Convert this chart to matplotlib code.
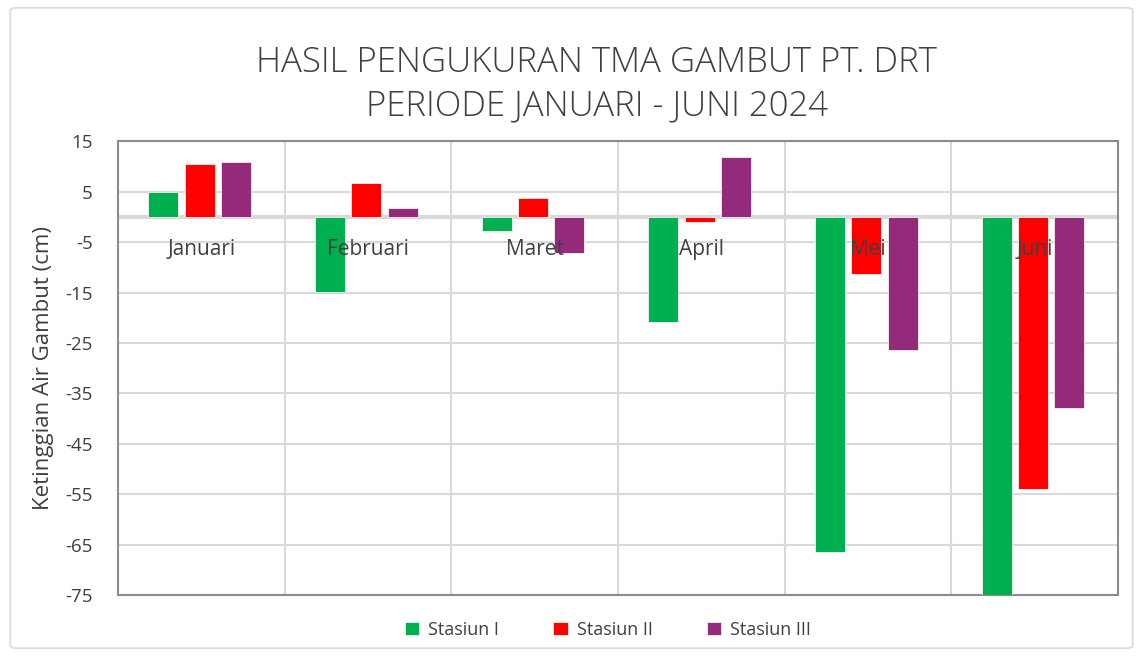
import matplotlib
matplotlib.use("Agg")
import matplotlib.pyplot as plt
import numpy as np
from matplotlib.patches import FancyBboxPatch

bulan = ["Januari", "Februari", "Maret", "April", "Mei", "Juni"]
stasiun_1 = [4.9, -14.9, -2.8, -20.9, -66.4, -75.0]
stasiun_2 = [10.6, 6.8, 3.7, -0.9, -11.3, -53.9]
stasiun_3 = [11.0, 1.9, -7.1, 11.9, -26.3, -37.8]
nama_seri = ["Stasiun I", "Stasiun II", "Stasiun III"]
warna = ["#00B050", "#FF0000", "#952A7A"]
yticks = [15, 5, -5, -15, -25, -35, -45, -55, -65, -75]

plt.rcParams['font.family'] = ['Open Sans', 'DejaVu Sans']

fig = plt.figure(figsize=(11.43, 6.56), dpi=100)
# outer chart border
fig.patches.append(FancyBboxPatch((0.009, 0.012), 0.982, 0.976, boxstyle="round,pad=0,rounding_size=0.005",
                                  transform=fig.transFigure, fill=False, edgecolor="#d9d9d9", lw=1.2))

ax = fig.add_axes([0.1032, 0.093, 0.8750, 0.6913])
x = np.arange(len(bulan))
w = 0.18
step = 0.218
for i, (vals, nm, c) in enumerate(zip([stasiun_1, stasiun_2, stasiun_3], nama_seri, warna)):
    ax.bar(x + (i - 1) * step - 0.01, vals, width=w, color=c, edgecolor="#f2f2f2", lw=0.6, label=nm, zorder=3)

ax.set_ylim(-75, 15)
ax.set_xlim(-0.5, len(bulan) - 0.5)
ax.set_yticks(yticks)
ax.set_yticklabels([str(t) for t in yticks], fontsize=13.5, color="#404040")
ax.set_xticks([])
ax.tick_params(axis="y", length=0, pad=18)
ax.grid(axis="y", color="#d9d9d9", lw=1.5, zorder=0)
for b in np.arange(0.5, len(bulan) - 0.5, 1):
    ax.axvline(b, color="#d9d9d9", lw=1.5, zorder=0)
ax.axhline(0, color="#d9d9d9", lw=3, zorder=2)
for s in ax.spines.values():
    s.set_color("#8c8c8c")
    s.set_linewidth(1.5)

for xi, nm in zip(x, bulan):
    ax.text(xi, -6.5, nm, ha="center", va="center", fontsize=15, color="#404040", zorder=5)

ax.set_ylabel("Ketinggian Air Gambut (cm)", fontsize=16, color="#404040", labelpad=8)

judul = ["HASIL PENGUKURAN TMA GAMBUT PT. DRT", "PERIODE JANUARI - JUNI 2024"]
for yy, t in zip([0.905, 0.838], judul):
    fig.text(0.522, yy, t, ha="center", va="center",
             fontsize=25, color="#404040", fontweight="light")

fig.legend(loc="center", bbox_to_anchor=(0.532, 0.04), ncol=3, frameon=False, fontsize=13,
           handlelength=0.8, handleheight=0.8, columnspacing=3.0, handletextpad=0.5,
           labelcolor="#404040")

fig.savefig("out.png", dpi=100)
